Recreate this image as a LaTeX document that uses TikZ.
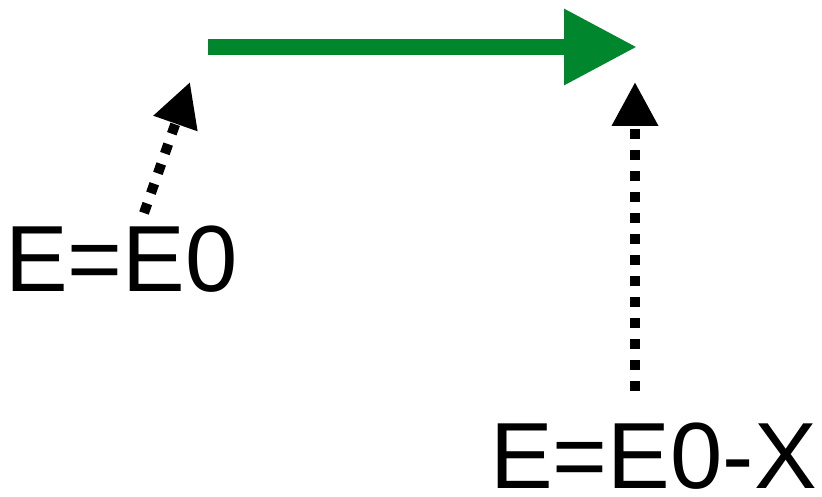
\documentclass[tikz,border=0pt]{standalone}
\usepackage{fontspec}
\setmainfont{Liberation Sans}
\usetikzlibrary{arrows.meta}
\definecolor{flowgreen}{RGB}{0,134,44}
\tikzset{
  label/.style={inner sep=0pt, text depth=0pt, anchor=base west, font=\fontsize{94}{100}\selectfont},
  dotarrow/.style={draw=black, line width=10pt, dash pattern=on 10pt off 11pt, -{Triangle[length=44pt,width=44pt]}},
  flowarrow/.style={draw=flowgreen, line width=16pt, -{Triangle[length=73pt,width=72pt]}}
}

\begin{document}
\begin{tikzpicture}[x=1pt,y=-1pt]
                \useasboundingbox (0,0) rectangle (822,497);
                \node[label](e0) at (5,291){E=E0};
                \node[label](e0x) at (490,488){E=E0-X};
                \coordinate (start) at (208,47);
                \coordinate (stop) at (637,47);
                \coordinate (from0) at (144,213);
                \coordinate (fromx) at (635,391);
                \path[flowarrow] (start) -- (stop);
                \path[dotarrow] (from0) -- (190,82);
                \path[dotarrow] (fromx) -- (635,82);
                \end{tikzpicture}
\end{document}
